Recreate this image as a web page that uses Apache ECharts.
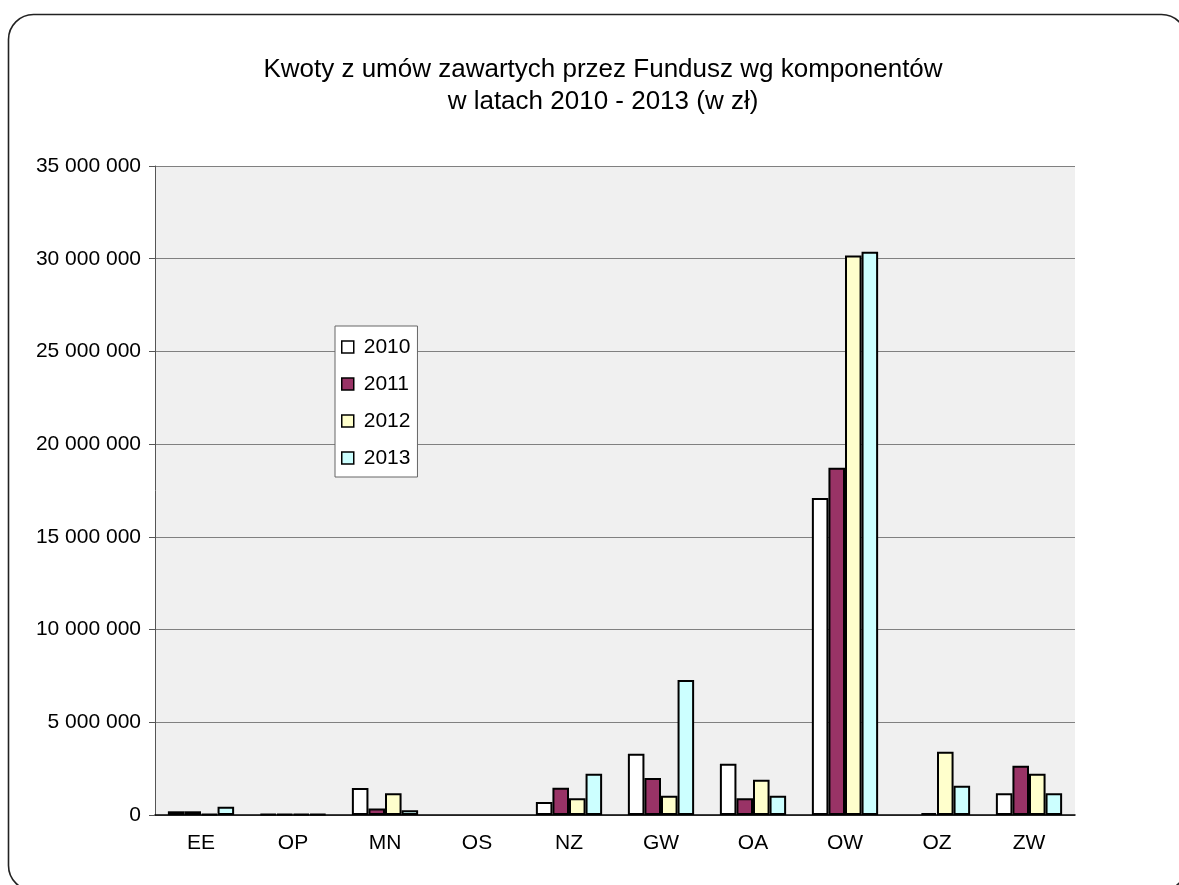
<!DOCTYPE html>
<html><head><meta charset="utf-8">
<script src="https://cdn.jsdelivr.net/npm/echarts@6/dist/echarts.min.js"></script>
<style>html,body{margin:0;padding:0;background:#fff}#c{width:1179px;height:885px}</style>
</head><body><div id="c"></div>
<script>
const categories = ['EE','OP','MN','OS','NZ','GW','OA','OW','OZ','ZW'];
const years = ['2010','2011','2012','2013'];
const v2010 = [200000, 50000, 1450000, null, 700000, 3300000, 2770000, 17100000, null, 1170000];
const v2011 = [200000, 50000, 350000, null, 1470000, 2000000, 900000, 18730000, 100000, 2660000];
const v2012 = [60000, 50000, 1170000, null, 900000, 1040000, 1900000, 30170000, 3410000, 2230000];
const v2013 = [450000, 50000, 250000, null, 2230000, 7280000, 1040000, 30370000, 1580000, 1170000];
const colors = ['#FFFFFF', '#993366', '#FFFFCC', '#CCFFFF'];
const titleLines = ['Kwoty z umów zawartych przez Fundusz wg komponentów', 'w latach 2010 - 2013 (w zł)'];

const chart = echarts.init(document.getElementById('c'), null, {renderer: 'canvas'});
const font = 'Liberation Sans, Arial, sans-serif';
const seriesData = [v2010, v2011, v2012, v2013];
chart.setOption({
  animation: false,
  backgroundColor: '#fff',
  graphic: [{
    type: 'rect', silent: true, z: -1,
    shape: {x: 8.5, y: 14.5, width: 1178, height: 876, r: 25},
    style: {fill: 'none', stroke: '#222', lineWidth: 1.6}
  }].concat(titleLines.map((t, i) => ({
    type: 'text', silent: true,
    x: 603, y: 70 + i * 32,
    style: {text: t, fill: '#000', font: '26px ' + font, align: 'center', verticalAlign: 'middle'}
  }))),
  legend: {
    orient: 'vertical', left: 335, top: 326,
    backgroundColor: '#fff', borderColor: '#666', borderWidth: 1,
    padding: [10, 7, 8, 6], itemGap: 15, itemWidth: 12, itemHeight: 12,
    icon: 'rect',
    itemStyle: {borderColor: '#000', borderWidth: 1.5},
    textStyle: {fontFamily: font, fontSize: 21, color: '#000', padding: [0, 0, 0, 5], lineHeight: 22},
    data: years
  },
  grid: {left: 155, right: 104, top: 166, bottom: 70, show: true, backgroundColor: '#F0F0F0', borderWidth: 0},
  xAxis: {
    type: 'category', data: categories,
    axisLine: {lineStyle: {color: '#000', width: 1.5}},
    axisTick: {length: 6, lineStyle: {color: '#000'}},
    axisLabel: {fontFamily: font, fontSize: 21, color: '#000', margin: 18}
  },
  yAxis: {
    type: 'value', min: 0, max: 35000000, interval: 5000000,
    axisLine: {show: true, lineStyle: {color: '#555', width: 1}},
    axisTick: {show: true, length: 6, lineStyle: {color: '#555'}},
    splitLine: {lineStyle: {color: '#808080', width: 1}},
    axisLabel: {fontFamily: font, fontSize: 21, color: '#000', margin: 14,
      formatter: v => String(v).replace(/\B(?=(\d{3})+(?!\d))/g, ' ')}
  },
  series: years.map((y, i) => ({
    name: y, type: 'bar', data: seriesData[i],
    barGap: '0%', barCategoryGap: '28%',
    itemStyle: {color: colors[i], borderColor: '#000', borderWidth: 2}
  }))
});
</script></body></html>
